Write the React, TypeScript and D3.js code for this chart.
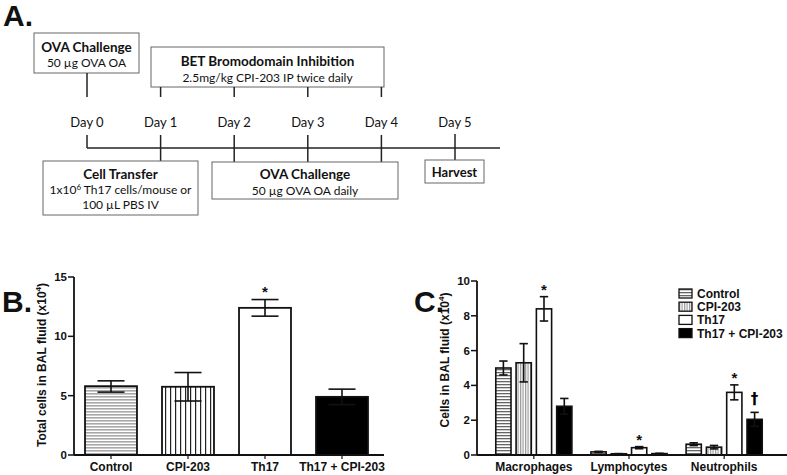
import React from 'react';
import * as d3 from 'd3';

// ---------- Panel B data ----------
const groupsB = ['Control', 'CPI-203', 'Th17', 'Th17 + CPI-203'];
const totalMean = [5.8, 5.75, 12.4, 4.9];
const totalLow = [5.3, 4.55, 11.7, 4.25];
const totalHigh = [6.25, 6.95, 13.1, 5.55];
const ticksB = [0, 5, 10, 15];
const marksB = ['', '', '*', ''];

// ---------- Panel C data ----------
const cellTypes = ['Macrophages', 'Lymphocytes', 'Neutrophils'];
const seriesNames = ['Control', 'CPI-203', 'Th17', 'Th17 + CPI-203'];
const controlVals = [5.0, 0.18, 0.62];
const controlErr = [0.4, 0.03, 0.08];
const cpiVals = [5.3, 0.07, 0.45];
const cpiErr = [1.1, 0.01, 0.1];
const th17Vals = [8.4, 0.42, 3.6];
const th17Err = [0.7, 0.06, 0.43];
const comboVals = [2.8, 0.08, 2.05];
const comboErr = [0.45, 0.02, 0.4];
const th17Marks = ['*', '*', '*'];
const comboMarks = ['', '', '†'];
const ticksC = [0, 2, 4, 6, 8, 10];

// ---------- Panel A data ----------
const days = ['Day 0', 'Day 1', 'Day 2', 'Day 3', 'Day 4', 'Day 5'];
const bromoDays = [1, 2, 3, 4];
const challengeDays = [2, 3, 4];

const AF = 'Arial, "Liberation Sans", Helvetica, sans-serif';
const CF = 'Lato, "Open Sans", sans-serif';

const fills = ['url(#patB0)', 'url(#patB1)', '#ffffff', '#000000'];
const fillsC = ['url(#patC0)', 'url(#patC1)', '#ffffff', '#000000'];

function ErrBar({ x, yTop, yBot, cap }: { x: number; yTop: number; yBot: number; cap: number }) {
  return (
    <g stroke="#111" strokeWidth={1.6}>
      <line x1={x} x2={x} y1={yTop} y2={yBot} />
      <line x1={x - cap / 2} x2={x + cap / 2} y1={yTop} y2={yTop} />
      <line x1={x - cap / 2} x2={x + cap / 2} y1={yBot} y2={yBot} />
    </g>
  );
}

function PanelA() {
  const dx = d3.scaleLinear().domain([0, 5]).range([87, 455]);
  const lineY = 148;
  const lc = '#222';
  return (
    <g fontFamily={CF} fill="#111">
      <text x={3} y={26} fontFamily={AF} fontWeight="bold" fontSize={30}>A.</text>
      {/* OVA challenge box */}
      <rect x={34} y={33} width={105} height={40} fill="#fff" stroke="#666" strokeWidth={1} />
      <text x={86.5} y={52} textAnchor="middle" fontWeight="bold" fontSize={13.5}>OVA Challenge</text>
      <text x={86.5} y={67} textAnchor="middle" fontSize={12}>50 µg OVA OA</text>
      {/* BET box */}
      <rect x={151} y={47} width={233} height={40} fill="#fff" stroke="#666" strokeWidth={1} />
      <text x={267.5} y={66} textAnchor="middle" fontWeight="bold" fontSize={13.5}>BET Bromodomain Inhibition</text>
      <text x={267.5} y={82} textAnchor="middle" fontSize={12}>2.5mg/kg CPI-203 IP twice daily</text>
      {/* timeline */}
      <line x1={dx(0)} x2={500} y1={lineY} y2={lineY} stroke={lc} strokeWidth={1.5} />
      <line x1={dx(0)} x2={dx(0)} y1={73} y2={97} stroke={lc} strokeWidth={1.5} />
      <line x1={dx(0)} x2={dx(0)} y1={135} y2={lineY} stroke={lc} strokeWidth={1.5} />
      {bromoDays.map((d) => (
        <line key={'b' + d} x1={dx(d)} x2={dx(d)} y1={87} y2={97} stroke={lc} strokeWidth={1.5} />
      ))}
      <line x1={dx(1)} x2={dx(1)} y1={135} y2={161} stroke={lc} strokeWidth={1.5} />
      {challengeDays.map((d) => (
        <line key={'c' + d} x1={dx(d)} x2={dx(d)} y1={135} y2={162} stroke={lc} strokeWidth={1.5} />
      ))}
      <line x1={dx(5)} x2={dx(5)} y1={134} y2={160} stroke={lc} strokeWidth={1.5} />
      {days.map((d, i) => (
        <text key={d} x={dx(i)} y={127} textAnchor="middle" fontSize={13}>{d}</text>
      ))}
      {/* Cell transfer box */}
      <rect x={43} y={161} width={155} height={54} fill="#fff" stroke="#666" strokeWidth={1} />
      <text x={120.5} y={179} textAnchor="middle" fontWeight="bold" fontSize={13.5}>Cell Transfer</text>
      <text x={120.5} y={194} textAnchor="middle" fontSize={12}>
        1x10<tspan dy={-4} fontSize={8}>6</tspan><tspan dy={4}> Th17 cells/mouse or</tspan>
      </text>
      <text x={120.5} y={209} textAnchor="middle" fontSize={12}>100 µL PBS IV</text>
      {/* OVA challenge 2 */}
      <rect x={212} y={162} width={186} height={37} fill="#fff" stroke="#666" strokeWidth={1} />
      <text x={305} y={179} textAnchor="middle" fontWeight="bold" fontSize={13.5}>OVA Challenge</text>
      <text x={305} y={195} textAnchor="middle" fontSize={12}>50 µg OVA OA daily</text>
      {/* Harvest */}
      <rect x={425} y={160} width={59} height={23} fill="#fff" stroke="#666" strokeWidth={1} />
      <text x={454.5} y={177} textAnchor="middle" fontWeight="bold" fontSize={13}>Harvest</text>
    </g>
  );
}

function PanelB() {
  const y = d3.scaleLinear().domain([0, 15]).range([455, 277]);
  const x = d3.scaleBand<string>().domain(groupsB).range([72.5, 380.5]).paddingInner(0.325).paddingOuter(0.1625);
  const axX = 74;
  const bw = x.bandwidth();
  return (
    <g fontFamily={AF} fontWeight="bold" fill="#111">
      <text x={2} y={312} fontSize={30}>B.</text>
      {groupsB.map((g, i) => {
        const x0 = x(g)!;
        const cx = x0 + bw / 2;
        return (
          <g key={g}>
            <rect x={x0} y={y(totalMean[i])} width={bw} height={y(0) - y(totalMean[i])} fill={fills[i]} stroke="#111" strokeWidth={1.8} />
            <ErrBar x={cx} yTop={y(totalHigh[i])} yBot={y(totalLow[i])} cap={bw * 0.52} />
            {marksB[i] && (
              <text x={cx} y={y(totalHigh[i]) - 3} textAnchor="middle" fontSize={15} fill="#111">{marksB[i]}</text>
            )}
            <line x1={cx} x2={cx} y1={455} y2={459} stroke="#111" strokeWidth={1.2} />
            <text x={cx} y={471} textAnchor="middle" fontSize={12}>{g}</text>
          </g>
        );
      })}
      <line x1={axX} x2={axX} y1={y(15)} y2={y(0)} stroke="#111" strokeWidth={1.8} />
      <line x1={axX} x2={384} y1={y(0)} y2={y(0)} stroke="#111" strokeWidth={1.8} />
      {ticksB.map((t) => (
        <g key={t}>
          <line x1={axX - 6} x2={axX} y1={y(t)} y2={y(t)} stroke="#111" strokeWidth={1.5} />
          <text x={axX - 7} y={y(t) + 4} textAnchor="end" fontSize={11.5}>{t}</text>
        </g>
      ))}
      <text transform={`translate(46,${365}) rotate(-90)`} textAnchor="middle" fontSize={12}>
        Total cells in BAL fluid (x10<tspan dy={-5} fontSize={8}>4</tspan><tspan dy={5}>)</tspan>
      </text>
    </g>
  );
}

function PanelC() {
  const y = d3.scaleLinear().domain([0, 10]).range([455, 281]);
  const x0s = d3.scaleBand<string>().domain(cellTypes).range([476.75, 781.25]).padding(0.2);
  const x1s = d3.scaleBand<string>().domain(seriesNames).range([0, x0s.bandwidth()]).paddingInner(0.25).paddingOuter(0);
  const vals = [controlVals, cpiVals, th17Vals, comboVals];
  const errs = [controlErr, cpiErr, th17Err, comboErr];
  const marks = [['', '', ''], ['', '', ''], th17Marks, comboMarks];
  const bw = x1s.bandwidth();
  const axX = 477;
  return (
    <g fontFamily={AF} fontWeight="bold" fill="#111">
      <text x={414} y={312} fontSize={30}>C.</text>
      {cellTypes.map((ct, j) => (
        <g key={ct}>
          {seriesNames.map((s, i) => {
            const bx = x0s(ct)! + x1s(s)!;
            const cx = bx + bw / 2;
            const v = vals[i][j];
            const e = errs[i][j];
            const m = marks[i][j];
            return (
              <g key={s}>
                <rect x={bx} y={y(v)} width={bw} height={y(0) - y(v)} fill={fillsC[i]} stroke="#111" strokeWidth={1.6} />
                <ErrBar x={cx} yTop={y(v + e)} yBot={y(v - e)} cap={bw * 0.55} />
                {m === '*' && (
                  <text x={cx} y={y(v + e) - 2} textAnchor="middle" fontSize={15} fill="#111">*</text>
                )}
                {m === '†' && (
                  <text x={cx} y={y(v + e) - 8} textAnchor="middle" fontSize={15} fill="#000" fontFamily='"DejaVu Sans", sans-serif'>†</text>
                )}
              </g>
            );
          })}
          <line x1={x0s(ct)! + x0s.bandwidth() / 2} x2={x0s(ct)! + x0s.bandwidth() / 2} y1={455} y2={459} stroke="#111" strokeWidth={1.2} />
          <text x={x0s(ct)! + x0s.bandwidth() / 2} y={471} textAnchor="middle" fontSize={12}>{ct}</text>
        </g>
      ))}
      <line x1={axX} x2={axX} y1={y(10)} y2={y(0)} stroke="#111" strokeWidth={1.8} />
      <line x1={axX} x2={787} y1={y(0)} y2={y(0)} stroke="#111" strokeWidth={1.8} />
      {ticksC.map((t) => (
        <g key={t}>
          <line x1={axX - 6} x2={axX} y1={y(t)} y2={y(t)} stroke="#111" strokeWidth={1.5} />
          <text x={axX - 7} y={y(t) + 4} textAnchor="end" fontSize={11.5}>{t}</text>
        </g>
      ))}
      <text transform={`translate(449,${360}) rotate(-90)`} textAnchor="middle" fontSize={12}>
        Cells in BAL fluid (x10<tspan dy={-5} fontSize={8}>4</tspan><tspan dy={5}>)</tspan>
      </text>
      {/* legend */}
      {seriesNames.map((s, i) => (
        <g key={s} transform={`translate(679,${289 + i * 13.2})`}>
          <rect x={0} y={0} width={13} height={9} fill={fillsC[i]} stroke="#111" strokeWidth={1.3} />
          <text x={18} y={9} fontSize={12}>{s}</text>
        </g>
      ))}
    </g>
  );
}

export default function App() {
  return (
    <svg width={787} height={475} style={{ position: 'absolute', left: 0, top: 0, background: '#fff' }}>
      <defs>
        <pattern id="patB0" patternUnits="userSpaceOnUse" width={4} height={3}>
          <rect width={4} height={3} fill="#ffffff" />
          <rect width={4} height={1.6} fill="#a8a8a8" />
        </pattern>
        <pattern id="patB1" patternUnits="userSpaceOnUse" width={5} height={4}>
          <rect width={5} height={4} fill="#ffffff" />
          <rect width={1.2} height={4} fill="#222" />
        </pattern>
        <pattern id="patC0" patternUnits="userSpaceOnUse" width={4} height={3}>
          <rect width={4} height={3} fill="#ffffff" />
          <rect width={4} height={1.3} fill="#666" />
        </pattern>
        <pattern id="patC1" patternUnits="userSpaceOnUse" width={2.5} height={4}>
          <rect width={2.5} height={4} fill="#ffffff" />
          <rect width={1.2} height={4} fill="#999" />
        </pattern>
      </defs>
      <rect width={787} height={475} fill="#fff" />
      <PanelA />
      <PanelB />
      <PanelC />
    </svg>
  );
}
